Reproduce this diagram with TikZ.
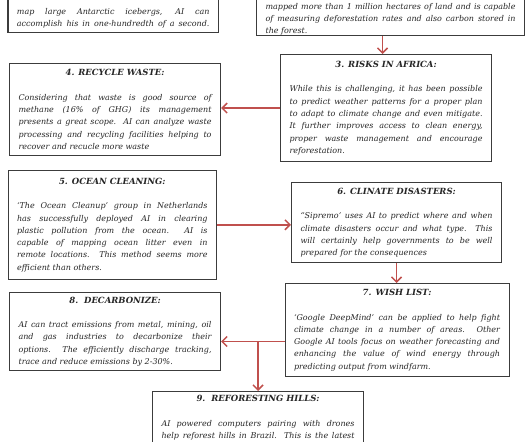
\documentclass[tikz,border=0pt]{standalone}
\usepackage{fontspec}
\setmainfont{DejaVu Serif}
\usetikzlibrary{arrows.meta,positioning,shadows,calc}
\definecolor{flowred}{RGB}{192,80,77}
\definecolor{boxgray}{RGB}{60,60,60}
\newcommand{\boxtitle}[1]{{\centering\fontsize{8.5}{12.3}\selectfont\bfseries #1\par}\vspace{\baselineskip}}

\begin{document}
\begin{tikzpicture}[x=1pt,y=-1pt,
    infobox/.style={draw=boxgray, line width=1.1pt, fill=white, inner xsep=9pt, inner ysep=4pt,
        align=justify, font=\fontsize{8}{12.3}\selectfont\itshape, text=black!85,
        drop shadow={shadow xshift=0.8pt, shadow yshift=-0.8pt, opacity=0.35}},
    flow/.style={draw=flowred, line width=1.5pt,
        -{Straight Barb[length=5pt, width=10pt, line width=1.5pt]}}]
    \useasboundingbox (0,0) rectangle (531,442);
    \clip (0,0) rectangle (531,442);

    % Top row (cut off by the page)
    \node[infobox, anchor=south west, text width=192.6pt] (ice) at (7.4,33)
        {\parfillskip=0pt\rule{0pt}{30pt}%
         map large Antarctic icebergs, AI can\linebreak
         accomplish his in one-hundredth of a second.\rule[-2pt]{0pt}{0pt}\par};
    \node[infobox, anchor=south west, text width=250pt, inner ysep=0pt] (forest) at (256,36)
        {\rule{0pt}{30pt}%
         mapped more than 1 million hectares of land and is capable\linebreak
         of measuring deforestation rates and also carbon stored in\linebreak
         the forest.};

    % 3 and 4
    \node[infobox, anchor=north west, text width=193pt, minimum height=107pt] (africa) at (280,54)
        {\boxtitle{3. RISKS IN AFRICA:}
         While this is challenging, it has been possible\linebreak
         to predict weather patterns for a proper plan\linebreak
         to adapt to climate change and even mitigate.\linebreak
         It further improves access to clean energy,\linebreak
         proper waste management and encourage\linebreak
         reforestation.};
    \node[infobox, anchor=north west, text width=193pt, minimum height=92pt] (waste) at (9,63)
        {\boxtitle{4. RECYCLE WASTE:}
         Considering that waste is good source of\linebreak
         methane (16\% of GHG) its management\linebreak
         presents a great scope.\ \ AI can analyze waste\linebreak
         processing and recycling facilities helping to\linebreak
         recover and recucle more waste};

    % 5 and 6
    \node[infobox, anchor=north west, text width=190.5pt, minimum height=109.4pt] (ocean) at (7.5,169.6)
        {\boxtitle{5. OCEAN CLEANING:}
         ‘The Ocean Cleanup’ group in Netherlands\linebreak
         has successfully deployed AI in clearing\linebreak
         plastic pollution from the ocean.\ \ AI is\linebreak
         capable of mapping ocean litter even in\linebreak
         remote locations.\ \ This method seems more\linebreak
         efficient than others.};
    \node[infobox, anchor=north west, text width=192pt, minimum height=80pt] (disaster) at (291,182)
        {\boxtitle{6. CLINATE DISASTERS:}
         “Sipremo’ uses AI to predict where and when\linebreak
         climate disasters occur and what type.\ \ This\linebreak
         will certainly help governments to be well\linebreak
         prepared for the consequences};

    % 7 and 8
    \node[infobox, anchor=north west, text width=206pt, minimum height=93pt] (wish) at (284.5,283)
        {\boxtitle{7. WISH LIST:}
         ‘Google DeepMind’ can be applied to help fight\linebreak
         climate change in a number of areas.\ \ Other\linebreak
         Google AI tools focus on weather forecasting and\linebreak
         enhancing the value of wind energy through\linebreak
         predicting output from windfarm.};
    \node[infobox, anchor=north west, text width=193pt, minimum height=78pt] (carbon) at (9,292)
        {\boxtitle{8.\ \ DECARBONIZE:}
         AI can tract emissions from metal, mining, oil\linebreak
         and gas industries to decarbonize their\linebreak
         options.\ \ The efficiently discharge tracking,\linebreak
         trace and reduce emissions by 2-30\%.};

    % 9 (cut off at the bottom)
    \node[infobox, anchor=north west, text width=193pt] (hills) at (152,391)
        {\boxtitle{9.\ \ REFORESTING HILLS:}
         \parfillskip=0pt
         AI powered computers pairing with drones\linebreak
         help reforest hills in Brazil.\ \ This is the latest\par};

    % Arrows
    \coordinate (drop) at ([xshift=-3.5pt]africa.north);
    \draw[flow] (drop |- forest.south) -- (drop);
    \draw[flow] (africa.west) -- (africa.west -| waste.east);
    \draw[flow] (ocean.east) -- (ocean.east -| disaster.west);
    \draw[flow] (disaster.south) -- (disaster.south |- wish.north);
    \path (hills.north) ++(0,-49.5) coordinate (split);
    \draw[flow] (split -| wish.west) -- (split -| carbon.east);
    \draw[flow] (split) -- (hills.north);
\end{tikzpicture}
\end{document}
